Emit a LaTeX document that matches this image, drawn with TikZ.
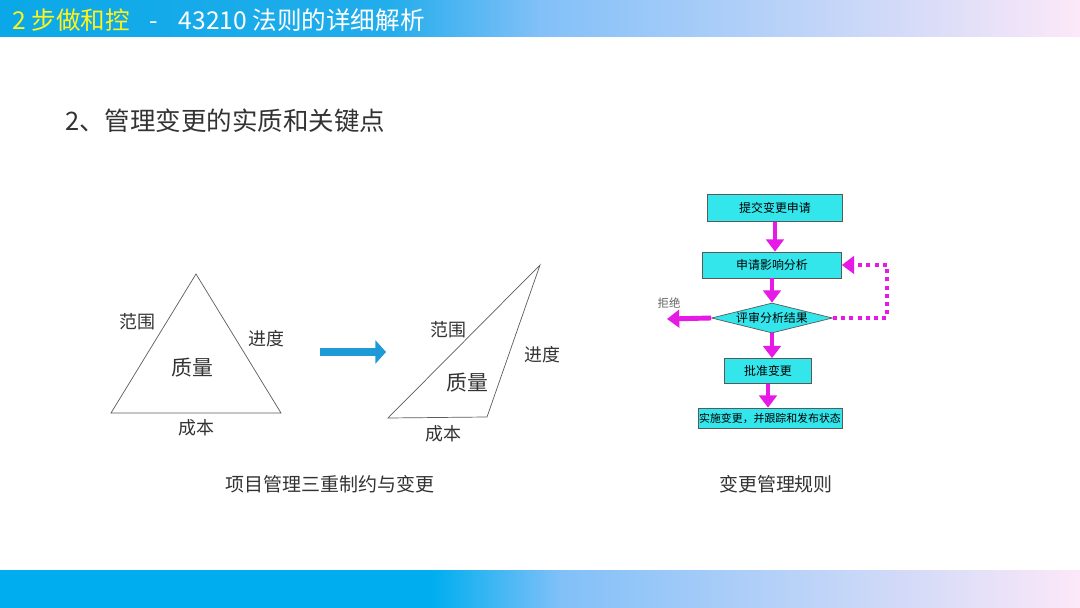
\documentclass[tikz,border=0pt]{standalone}
\usepackage{fontspec}
\setmainfont{Noto Sans CJK SC}
\usetikzlibrary{arrows.meta,shapes.geometric}
\definecolor{bandblue}{HTML}{0AA8E8}
\definecolor{bandmid}{HTML}{82C0F8}
\definecolor{bandpink}{HTML}{FCE8F8}
\definecolor{footblue}{HTML}{00AEEF}
\definecolor{flowcyan}{HTML}{33E6EC}
\definecolor{flowpink}{HTML}{E619E6}
\definecolor{shiftblue}{HTML}{1E9AD6}
\definecolor{titlegray}{HTML}{333333}
\pgfdeclarehorizontalshading{headshade}{100bp}{color(0bp)=(bandblue); color(25bp)=(bandblue); color(43bp)=(bandblue!80!bandmid); color(50bp)=(bandmid); color(75bp)=(bandpink); color(100bp)=(bandpink)}
\pgfdeclarehorizontalshading{footshade}{100bp}{color(0bp)=(footblue); color(45bp)=(footblue); color(51bp)=(bandmid); color(75bp)=(bandpink); color(100bp)=(bandpink)}
\newcommand\px[1]{\fontsize{#1}{#1}\selectfont}

\begin{document}
\begin{tikzpicture}[x=0.02cm,y=-0.02cm]

\tikzset{label/.style={text=titlegray,inner sep=0pt},
         flowbox/.style={draw=gray!70!black,fill=flowcyan,thin,inner sep=0pt,
                         minimum height=#1,font=\px{6.8pt}},
         flowstep/.style={-{Triangle[length=7pt,width=10pt]},line width=2.8pt,flowpink}}

\useasboundingbox (0,0) rectangle (1080,608);
\fill[white] (0,0) rectangle (1080,608);

% header and footer
\shade[shading=headshade] (0,0) rectangle (1080,37);
\shade[shading=footshade] (0,570) rectangle (1080,608);
\node[anchor=west,inner sep=0pt,font=\px{14pt}] (head) at (12,20)
  {\textcolor{yellow!90!white}{2 步做和控}\textcolor{white}{\hspace{11pt}-\hspace{12pt}43210 法则的详细解析}};

\node[anchor=west,label,font=\px{14.5pt}] (title) at (65,121) {2、管理变更的实质和关键点};

% triple constraint, before
\coordinate (a1) at (196,274);
\coordinate (b1) at (111,413);
\coordinate (c1) at (281,413);
\draw[titlegray!80] (a1) -- (b1) -- (c1) -- cycle;
\node[label,font=\px{10.2pt}] (scope1) at (137,322) {范围};
\node[label,font=\px{10.2pt}] (sched1) at (266,339) {进度};
\node[label,font=\px{11.9pt}] (qual1)  at (192,368) {质量};
\node[label,font=\px{10.2pt}] (cost1)  at (196,428) {成本};

% shift arrow
\coordinate (s0) at (320,352);
\coordinate (s1) at (386,352);
\draw[shiftblue,line width=5pt,-{Triangle[length=6pt,width=13pt]}] (s0) -- (s1);

% triple constraint, after
\coordinate (a2) at (540,265);
\coordinate (b2) at (388,418);
\coordinate (c2) at (487,417);
\draw[titlegray!80] (a2) -- (b2) -- (c2) -- cycle;
\node[label,font=\px{10.2pt}] (scope2) at (448,330) {范围};
\node[label,font=\px{10.2pt}] (sched2) at (542,355) {进度};
\node[label,font=\px{11.9pt}] (qual2)  at (467,383) {质量};
\node[label,font=\px{10.2pt}] (cost2)  at (443,434) {成本};

\node[label,font=\px{10.8pt}] (cap1) at (330,484) {项目管理三重制约与变更};
\node[label,font=\px{10.8pt}] (cap2) at (776,484) {变更管理规则};

% change rule flow
\node[flowbox=0.54cm,minimum width=2.7cm]  (submit)  at (775,208) {提交变更申请};
\node[flowbox=0.52cm,minimum width=2.78cm] (impact)  at (772,265) {申请影响分析};
\node[diamond,aspect=4,draw=gray!70!black,fill=flowcyan,thin,inner sep=0pt,
      minimum width=2.42cm,minimum height=0.6cm,font=\px{6.8pt}] (review) at (772,318) {评审分析结果};
\node[flowbox=0.5cm,minimum width=1.74cm]  (approve) at (768,371) {批准变更};
\node[flowbox=0.4cm,minimum width=2.88cm,font=\px{6.2pt}] (apply) at (770,418) {实施变更，并跟踪和发布状态};

\draw[flowstep] (submit) -- (submit |- impact.north);
\draw[flowstep] (impact) -- (impact |- review.north);
\draw[flowstep] (review) -- (review |- approve.north);
\draw[flowstep] (approve) -- (approve |- apply.north);

\coordinate (refuse) at (667,319);
\draw[flowstep] (review.west) -- (refuse);
\node[text=gray!80!black,inner sep=0pt,font=\px{6.5pt}] (reject) at (669,303) {拒绝};

\coordinate (loop) at (887,318);
\draw[flowpink,line width=2.6pt,dash pattern=on 2.3pt off 2.4pt,-{Triangle[length=7pt,width=10pt]}]
  (review.east) -- (loop) |- (impact.east);

\end{tikzpicture}
\end{document}
